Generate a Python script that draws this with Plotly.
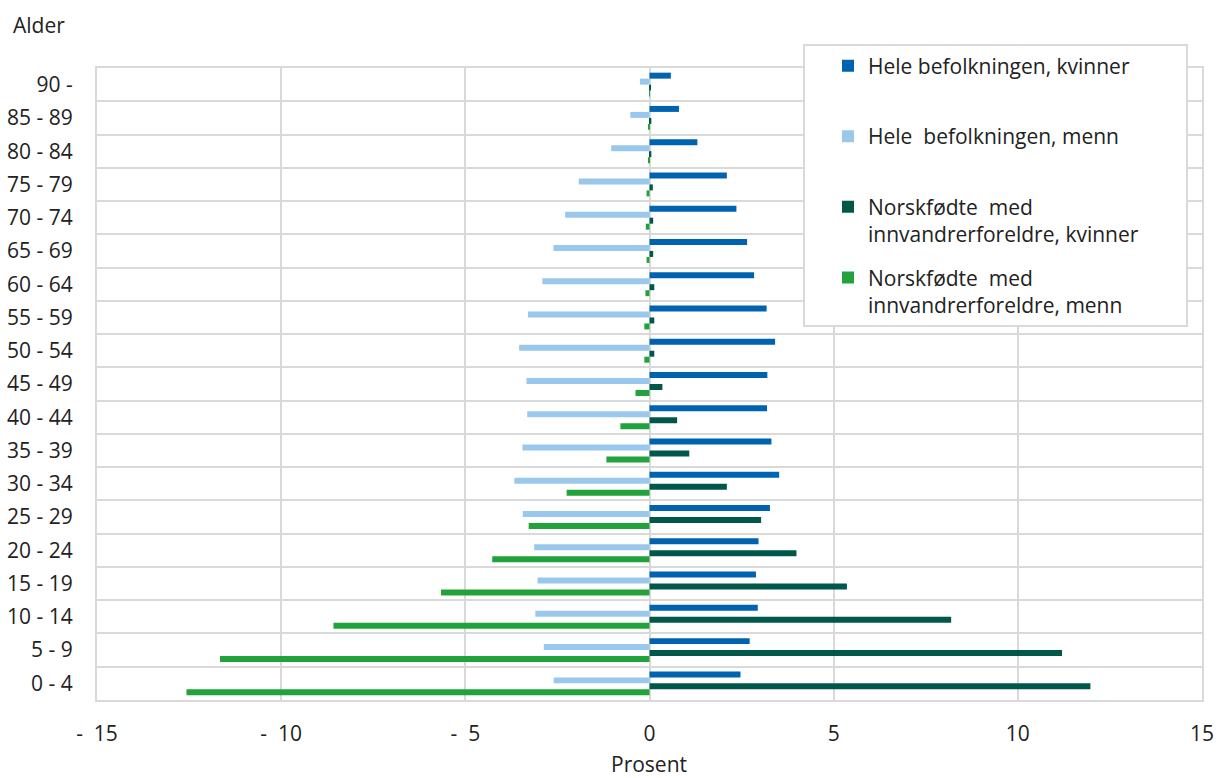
import plotly.graph_objects as go

categories = ["0 - 4", "5 - 9", "10 - 14", "15 - 19", "20 - 24", "25 - 29", "30 - 34",
              "35 - 39", "40 - 44", "45 - 49", "50 - 54", "55 - 59", "60 - 64", "65 - 69",
              "70 - 74", "75 - 79", "80 - 84", "85 - 89", "90 -"]

hele_kvinner = [2.47, 2.72, 2.94, 2.89, 2.96, 3.27, 3.52, 3.31, 3.19, 3.20,
                3.41, 3.18, 2.84, 2.65, 2.36, 2.10, 1.30, 0.80, 0.58]
hele_menn = [-2.60, -2.87, -3.10, -3.04, -3.13, -3.44, -3.67, -3.45, -3.32, -3.34,
             -3.54, -3.30, -2.91, -2.61, -2.29, -1.92, -1.04, -0.52, -0.26]
norsk_kvinner = [11.97, 11.20, 8.19, 5.36, 3.99, 3.03, 2.10, 1.08, 0.75, 0.35,
                 0.13, 0.13, 0.13, 0.10, 0.10, 0.09, 0.05, 0.05, 0.03]
norsk_menn = [-12.57, -11.66, -8.58, -5.66, -4.27, -3.28, -2.25, -1.17, -0.79, -0.38,
              -0.14, -0.14, -0.11, -0.08, -0.10, -0.08, -0.03, -0.03, -0.01]

NB = "\u00a0"
x_tickvals = [-15, -10, -5, 0, 5, 10, 15]
x_ticktext = ["-" + NB * 2 + "15", "-" + NB * 2 + "10", "-" + NB * 2 + "5", "0", "5", "10", "15"]

# (legend name, values, colour, legend rank) in drawing order: bottom bar of a group first
series = [
    ("Norskfødte" + NB * 2 + "med<br>innvandrerforeldre, menn", norsk_menn, "#22a23a", 4),
    ("Norskfødte" + NB * 2 + "med<br>innvandrerforeldre, kvinner", norsk_kvinner, "#00584a", 3),
    ("Hele" + NB * 2 + "befolkningen, menn<br>" + NB, hele_menn, "#9ac8ec", 2),
    ("Hele befolkningen, kvinner<br>" + NB, hele_kvinner, "#0063b0", 1),
]

FONT = "Open Sans, Noto Sans, sans-serif"
FS = 21
TXT = "#222222"
GRID = "#d9d9d9"

fig = go.Figure()
for i, (name, vals, col, rank) in enumerate(series):
    fig.add_trace(go.Bar(
        y=categories, x=vals, name=name, orientation="h",
        marker=dict(color=col, line=dict(width=0)),
        legendgroup=f"g{rank}", legendrank=rank,
    ))

L, R, T, B = 97, 24, 68, 78
W, H = 1226, 778
pw = W - L - R
ph = H - T - B


def px_x(x):
    return (x - L) / pw


def px_y(y):
    return (H - B - y) / ph


fig.update_layout(
    width=W, height=H,
    margin=dict(l=L, r=R, t=T, b=B, pad=0, autoexpand=False),
    barmode="group", bargap=0.28, bargroupgap=0,
    plot_bgcolor="white", paper_bgcolor="white",
    font=dict(family=FONT, size=FS, color=TXT),
    showlegend=True,
    legend=dict(
        x=px_x(828), y=px_y(45.5), xanchor="left", yanchor="top",
        traceorder="grouped", tracegroupgap=13,
        valign="top", bgcolor="rgba(0,0,0,0)", borderwidth=0,
        font=dict(family=FONT, size=FS, color=TXT),
    ),
    xaxis=dict(
        range=[-15, 15], tickvals=x_tickvals, ticktext=x_ticktext,
        showgrid=True, gridcolor=GRID, gridwidth=2,
        zeroline=True, zerolinecolor=GRID, zerolinewidth=2,
        showline=True, linecolor=GRID, linewidth=2, mirror=True,
        ticks="outside", ticklen=14, tickcolor="rgba(0,0,0,0)",
        tickfont=dict(family=FONT, size=FS, color=TXT),
        automargin=False, fixedrange=True,
    ),
    yaxis=dict(
        type="category", categoryorder="array", categoryarray=categories,
        range=[-0.5, len(categories) - 0.5],
        tickson="boundaries", showgrid=True, gridcolor=GRID, gridwidth=2,
        showline=True, linecolor=GRID, linewidth=2, mirror=True,
        ticks="", ticklabelstandoff=18,
        tickfont=dict(family=FONT, size=FS, color=TXT),
        automargin=False, fixedrange=True,
    ),
    shapes=[dict(
        type="rect", xref="paper", yref="paper",
        x0=px_x(804), x1=px_x(1187), y0=px_y(326), y1=px_y(45),
        line=dict(color=GRID, width=2), fillcolor="white", layer="above",
    )],
    annotations=[
        dict(text="Alder", xref="paper", yref="paper", x=px_x(11), y=px_y(25),
             xanchor="left", yanchor="middle", showarrow=False,
             font=dict(family=FONT, size=FS, color=TXT)),
        dict(text="Prosent", xref="paper", yref="paper", x=px_x(649), y=px_y(764),
             xanchor="center", yanchor="middle", showarrow=False,
             font=dict(family=FONT, size=FS, color=TXT)),
    ],
)

fig.write_html("out.html", config={"displayModeBar": False},
               post_script="document.body.style.margin='0';")
